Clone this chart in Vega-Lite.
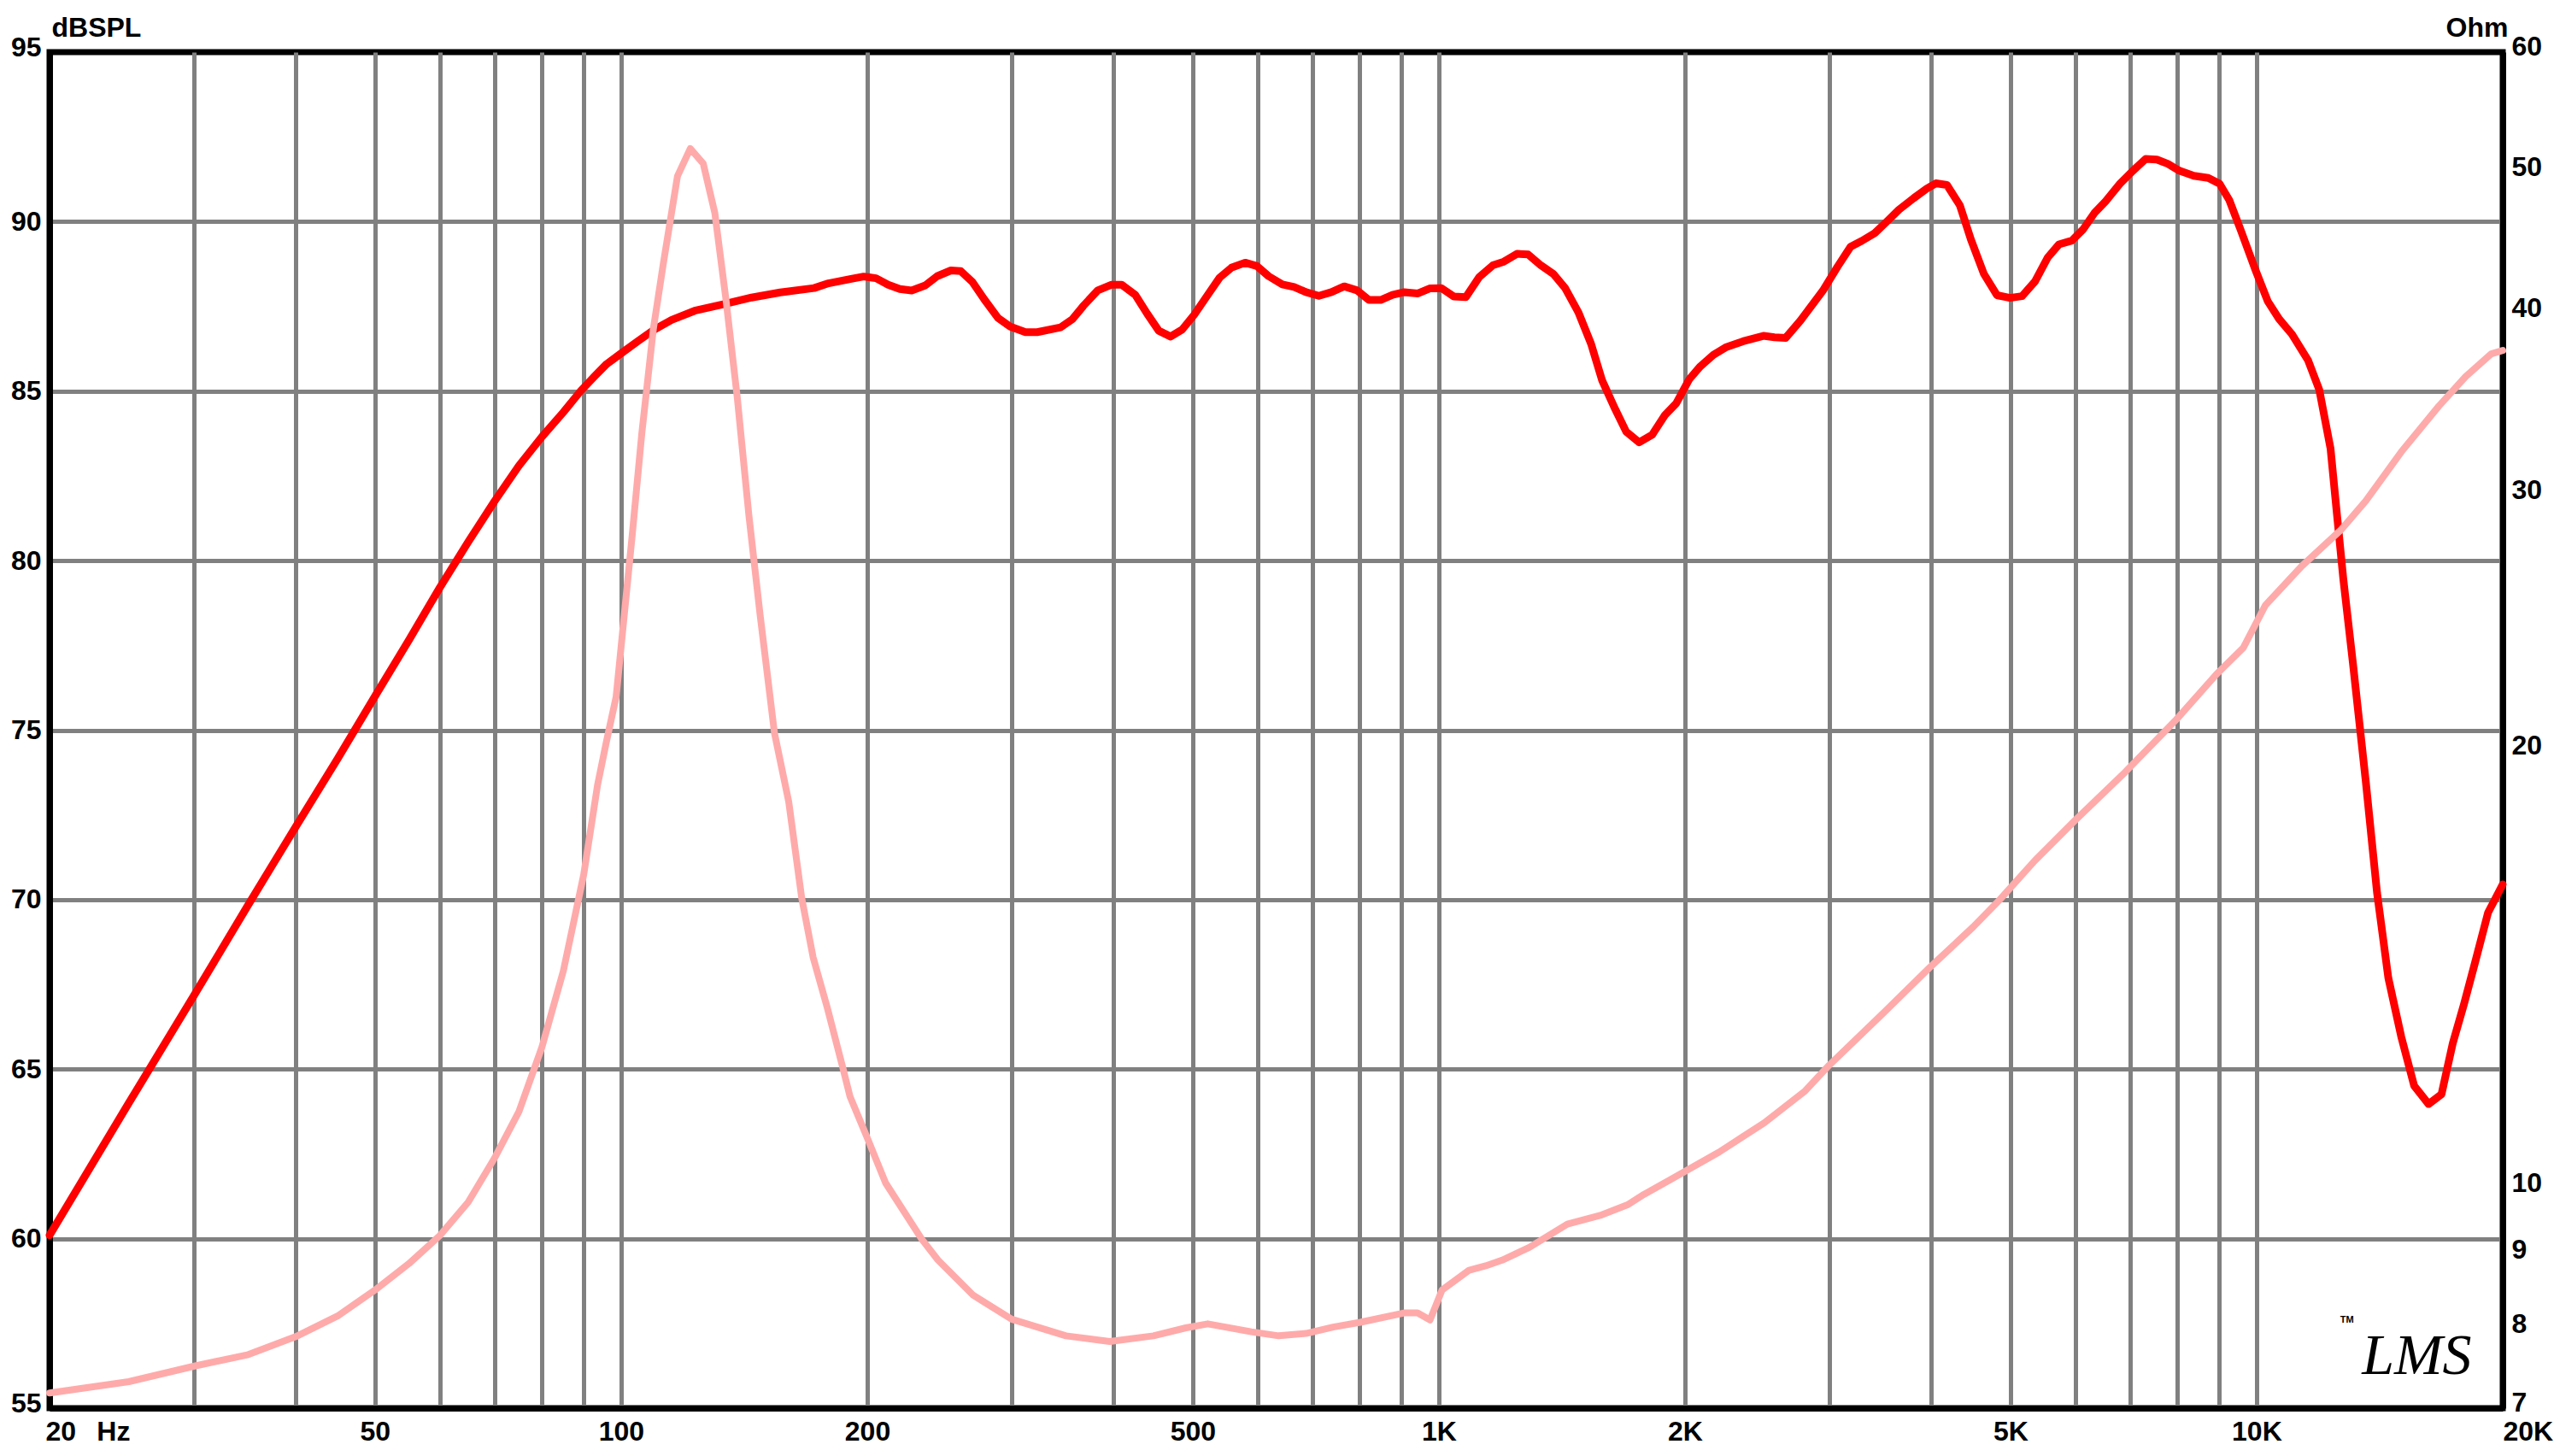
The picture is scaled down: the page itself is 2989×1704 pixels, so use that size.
{
  "$schema": "https://vega.github.io/schema/vega-lite/v6.json",
  "width": 2871,
  "height": 1587,
  "autosize": "none",
  "padding": {"left": 58, "top": 61, "right": 60, "bottom": 56},
  "background": "white",
  "config": {
    "view": {"stroke": "black", "strokeWidth": 7},
    "axis": {
      "labelFont": "Liberation Sans", "labelFontWeight": "bold", "labelFontSize": 32, "labelColor": "black",
      "titleFont": "Liberation Sans", "titleFontWeight": "bold", "titleFontSize": 32, "titleColor": "black"
    }
  },
  "datasets": {
    "spl": [
      {"f":20,"db":60.1},{"f":25,"db":64.0},{"f":30,"db":67.15},{"f":35,"db":69.85},{"f":40,"db":72.15},{"f":45,"db":74.15},{"f":50,"db":76.0},{"f":55,"db":77.65},{"f":60,"db":79.2},{"f":65,"db":80.55},{"f":70,"db":81.75},{"f":75,"db":82.8},{"f":80,"db":83.65},{"f":85,"db":84.38},{"f":89.2,"db":85.0},{"f":92.9,"db":85.45},{"f":96,"db":85.8},{"f":99.7,"db":86.09},{"f":104.8,"db":86.47},{"f":109.9,"db":86.82},{"f":115.3,"db":87.1},{"f":123,"db":87.37},{"f":133.3,"db":87.56},{"f":144.4,"db":87.76},{"f":156.5,"db":87.91},{"f":172.2,"db":88.04},{"f":179.3,"db":88.18},{"f":191.1,"db":88.31},{"f":198,"db":88.38},{"f":205,"db":88.33},{"f":212.1,"db":88.14},{"f":219.2,"db":88.01},{"f":226.6,"db":87.97},{"f":235.5,"db":88.12},{"f":243.5,"db":88.39},{"f":253.1,"db":88.56},{"f":260.2,"db":88.54},{"f":268.9,"db":88.22},{"f":278,"db":87.71},{"f":289,"db":87.16},{"f":298.7,"db":86.91},{"f":312.2,"db":86.74},{"f":322.7,"db":86.74},{"f":344.7,"db":86.88},{"f":356.3,"db":87.12},{"f":368.3,"db":87.54},{"f":382.7,"db":87.97},{"f":398,"db":88.14},{"f":409.3,"db":88.14},{"f":425.4,"db":87.84},{"f":439.7,"db":87.29},{"f":454.5,"db":86.78},{"f":469.8,"db":86.61},{"f":485.6,"db":86.82},{"f":502,"db":87.25},{"f":521.8,"db":87.84},{"f":539.5,"db":88.35},{"f":557.6,"db":88.64},{"f":579.6,"db":88.79},{"f":599.1,"db":88.69},{"f":619.2,"db":88.39},{"f":643.6,"db":88.15},{"f":665.3,"db":88.07},{"f":687.8,"db":87.92},{"f":713.3,"db":87.81},{"f":739,"db":87.92},{"f":766,"db":88.09},{"f":794.6,"db":87.97},{"f":821.2,"db":87.69},{"f":848.9,"db":87.69},{"f":877.5,"db":87.84},{"f":907.1,"db":87.92},{"f":942.8,"db":87.88},{"f":974.6,"db":88.03},{"f":1007,"db":88.04},{"f":1043,"db":87.79},{"f":1079,"db":87.77},{"f":1120,"db":88.36},{"f":1164,"db":88.71},{"f":1201,"db":88.82},{"f":1246,"db":89.05},{"f":1286,"db":89.03},{"f":1333,"db":88.71},{"f":1380,"db":88.46},{"f":1427,"db":88.04},{"f":1481,"db":87.33},{"f":1535,"db":86.40},{"f":1584,"db":85.31},{"f":1643,"db":84.47},{"f":1695,"db":83.80},{"f":1758,"db":83.49},{"f":1823,"db":83.71},{"f":1891,"db":84.30},{"f":1951,"db":84.64},{"f":2024,"db":85.35},{"f":2088,"db":85.73},{"f":2166,"db":86.07},{"f":2247,"db":86.30},{"f":2355,"db":86.47},{"f":2494,"db":86.63},{"f":2573,"db":86.59},{"f":2655,"db":86.57},{"f":2768,"db":87.08},{"f":2948,"db":87.96},{"f":3073,"db":88.67},{"f":3188,"db":89.26},{"f":3289,"db":89.43},{"f":3412,"db":89.66},{"f":3520,"db":89.97},{"f":3652,"db":90.35},{"f":3807,"db":90.69},{"f":3949,"db":90.97},{"f":4053,"db":91.13},{"f":4182,"db":91.08},{"f":4337,"db":90.48},{"f":4474,"db":89.47},{"f":4640,"db":88.46},{"f":4814,"db":87.83},{"f":4994,"db":87.75},{"f":5165,"db":87.80},{"f":5357,"db":88.23},{"f":5554,"db":88.94},{"f":5733,"db":89.33},{"f":5944,"db":89.44},{"f":6135,"db":89.77},{"f":6333,"db":90.25},{"f":6537,"db":90.60},{"f":6808,"db":91.12},{"f":7059,"db":91.50},{"f":7318,"db":91.85},{"f":7553,"db":91.83},{"f":7796,"db":91.70},{"f":8047,"db":91.50},{"f":8381,"db":91.35},{"f":8729,"db":91.29},{"f":9010,"db":91.12},{"f":9258,"db":90.64},{"f":9557,"db":89.77},{"f":9955,"db":88.61},{"f":10321,"db":87.65},{"f":10654,"db":87.13},{"f":11047,"db":86.68},{"f":11560,"db":85.91},{"f":11931,"db":85.04},{"f":12315,"db":83.31},{"f":12538,"db":81.38},{"f":12768,"db":79.45},{"f":13120,"db":76.95},{"f":13603,"db":73.47},{"f":14039,"db":70.20},{"f":14492,"db":67.69},{"f":15031,"db":65.95},{"f":15584,"db":64.51},{"f":16232,"db":63.97},{"f":16833,"db":64.26},{"f":17375,"db":65.76},{"f":17935,"db":66.92},{"f":18512,"db":68.17},{"f":19193,"db":69.62},{"f":20000,"db":70.45}
    ],
    "imp": [
      {"f":20,"ohm":7.17},{"f":25,"ohm":7.3},{"f":30,"ohm":7.48},{"f":35,"ohm":7.62},{"f":40,"ohm":7.84},{"f":45,"ohm":8.1},{"f":50,"ohm":8.44},{"f":55,"ohm":8.8},{"f":60,"ohm":9.2},{"f":65,"ohm":9.7},{"f":70,"ohm":10.4},{"f":75,"ohm":11.2},{"f":80,"ohm":12.4},{"f":85,"ohm":14.0},{"f":90,"ohm":16.3},{"f":93.6,"ohm":18.8},{"f":95.9,"ohm":20.1},{"f":98.6,"ohm":21.6},{"f":100.6,"ohm":24.2},{"f":103.1,"ohm":27.8},{"f":106,"ohm":32.8},{"f":109.5,"ohm":38.7},{"f":112.6,"ohm":42.9},{"f":117.2,"ohm":49.3},{"f":121.5,"ohm":51.5},{"f":126,"ohm":50.3},{"f":130.2,"ohm":46.5},{"f":134.3,"ohm":40.6},{"f":138.7,"ohm":34.7},{"f":143.3,"ohm":28.8},{"f":147.9,"ohm":24.6},{"f":154,"ohm":20.4},{"f":160.3,"ohm":18.3},{"f":166.3,"ohm":15.7},{"f":171.7,"ohm":14.3},{"f":178.7,"ohm":13.2},{"f":186.7,"ohm":12.0},{"f":190.5,"ohm":11.47},{"f":200,"ohm":10.74},{"f":210.6,"ohm":10.0},{"f":233.1,"ohm":9.15},{"f":244.1,"ohm":8.85},{"f":269.6,"ohm":8.37},{"f":300.3,"ohm":8.06},{"f":350,"ohm":7.85},{"f":395.8,"ohm":7.78},{"f":447.6,"ohm":7.85},{"f":490.6,"ohm":7.95},{"f":521.7,"ohm":8.0},{"f":589.8,"ohm":7.9},{"f":637,"ohm":7.85},{"f":688,"ohm":7.88},{"f":742.5,"ohm":7.96},{"f":801.7,"ohm":8.02},{"f":906.6,"ohm":8.14},{"f":941.8,"ohm":8.14},{"f":975.5,"ohm":8.05},{"f":1009,"ohm":8.44},{"f":1089,"ohm":8.71},{"f":1141,"ohm":8.77},{"f":1195,"ohm":8.85},{"f":1290,"ohm":9.03},{"f":1436,"ohm":9.37},{"f":1575,"ohm":9.5},{"f":1701,"ohm":9.66},{"f":1781,"ohm":9.82},{"f":1924,"ohm":10.06},{"f":2200,"ohm":10.5},{"f":2500,"ohm":11.0},{"f":2800,"ohm":11.56},{"f":3000,"ohm":12.05},{"f":3500,"ohm":13.1},{"f":4000,"ohm":14.1},{"f":4500,"ohm":15.0},{"f":4849,"ohm":15.66},{"f":5357,"ohm":16.67},{"f":5983,"ohm":17.74},{"f":6904,"ohm":19.17},{"f":7970,"ohm":20.83},{"f":8937,"ohm":22.4},{"f":9633,"ohm":23.35},{"f":10248,"ohm":24.97},{"f":11351,"ohm":26.57},{"f":12670,"ohm":28.13},{"f":13603,"ohm":29.47},{"f":15031,"ohm":31.85},{"f":16711,"ohm":34.25},{"f":18016,"ohm":35.88},{"f":19369,"ohm":37.2},{"f":20000,"ohm":37.4}
    ],
    "logo": [{"f": 15700, "db": 56.5, "label": "LMS"}],
    "tm": [{"f": 12900, "db": 57.6, "label": "TM"}]
  },
  "layer": [
    {
      "layer": [
        {
          "data": {"name": "spl"},
          "mark": {"type": "line", "color": "#ff0000", "strokeWidth": 9, "strokeJoin": "round", "strokeCap": "round"},
          "encoding": {
            "x": {
              "field": "f", "type": "quantitative",
              "scale": {"type": "log", "domain": [20, 20000], "nice": false},
              "axis": {
                "values": [20,30,40,50,60,70,80,90,100,200,300,400,500,600,700,800,900,1000,2000,3000,4000,5000,6000,7000,8000,9000,10000,20000],
                "grid": true, "gridColor": "#808080", "gridWidth": 5,
                "gridOpacity": {"condition": {"test": "datum.value == 20 || datum.value == 20000", "value": 0}, "value": 1},
                "domain": true, "domainColor": "black", "domainWidth": 7,
                "ticks": false, "tickSize": 0, "labelPadding": 12,
                "labelFlush": false, "labelOverlap": false, "labelBound": false,
                "labelAlign": {"condition": {"test": "datum.value == 20 || datum.value == 20000", "value": "left"}, "value": "center"},
                "labelOffset": {"condition": {"test": "datum.value == 20", "value": -5}, "value": 0},
                "labelExpr": "datum.value == 20 ? '20\u00a0\u00a0\u2009Hz' : (indexof([50,100,200,500,1000,2000,5000,10000,20000], datum.value) >= 0 ? (datum.value >= 1000 ? (datum.value/1000) + 'K' : '' + datum.value) : '')",
                "title": null
              }
            },
            "y": {
              "field": "db", "type": "quantitative",
              "scale": {"domain": [55, 95], "zero": false, "nice": false},
              "axis": {
                "orient": "left",
                "values": [55,60,65,70,75,80,85,90,95],
                "grid": true, "gridColor": "#808080", "gridWidth": 5,
                "gridOpacity": {"condition": {"test": "datum.value == 55 || datum.value == 95", "value": 0}, "value": 1},
                "domain": true, "domainColor": "black", "domainWidth": 7,
                "ticks": false, "tickSize": 0, "labelPadding": 10,
                "labelOverlap": false, "labelFlush": false, "labelBound": false,
                "labelBaseline": "middle",
                "labelOffset": {"condition": {"test": "datum.value == 95 || datum.value == 55", "value": -6}, "value": 0},
                "title": "dBSPL", "titleAngle": 0, "titleAlign": "left", "titleBaseline": "alphabetic",
                "titleX": 2, "titleY": -19
              }
            }
          }
        },
        {
          "data": {"name": "logo"},
          "mark": {"type": "text", "font": "Liberation Serif", "fontStyle": "italic", "fontSize": 68, "align": "center", "baseline": "middle", "color": "black"},
          "encoding": {
            "x": {"field": "f", "type": "quantitative"},
            "y": {"field": "db", "type": "quantitative"},
            "text": {"field": "label"}
          }
        },
        {
          "data": {"name": "tm"},
          "mark": {"type": "text", "font": "Liberation Sans", "fontWeight": "bold", "fontSize": 11, "align": "center", "baseline": "middle", "color": "black"},
          "encoding": {
            "x": {"field": "f", "type": "quantitative"},
            "y": {"field": "db", "type": "quantitative"},
            "text": {"field": "label"}
          }
        }
      ]
    },
    {
      "data": {"name": "imp"},
      "mark": {"type": "line", "color": "#ffaaaa", "strokeWidth": 8, "strokeJoin": "round", "strokeCap": "round"},
      "encoding": {
        "x": {"field": "f", "type": "quantitative"},
        "y": {
          "field": "ohm", "type": "quantitative",
          "scale": {"type": "log", "domain": [7, 60], "nice": false},
          "axis": {
            "orient": "right",
            "values": [7,8,9,10,20,30,40,50,60],
            "grid": false,
            "domain": true, "domainColor": "black", "domainWidth": 7,
            "ticks": false, "tickSize": 0, "labelPadding": 10,
            "labelOverlap": false, "labelFlush": false, "labelBound": false,
            "labelBaseline": "middle", "labelAlign": "left",
            "labelOffset": {"condition": {"test": "datum.value == 60 || datum.value == 7", "value": -7}, "value": 0},
            "format": "d",
            "title": "Ohm", "titleAngle": 0, "titleAlign": "right", "titleBaseline": "alphabetic",
            "titleX": 6, "titleY": -19
          }
        }
      }
    }
  ],
  "resolve": {"scale": {"y": "independent"}}
}
